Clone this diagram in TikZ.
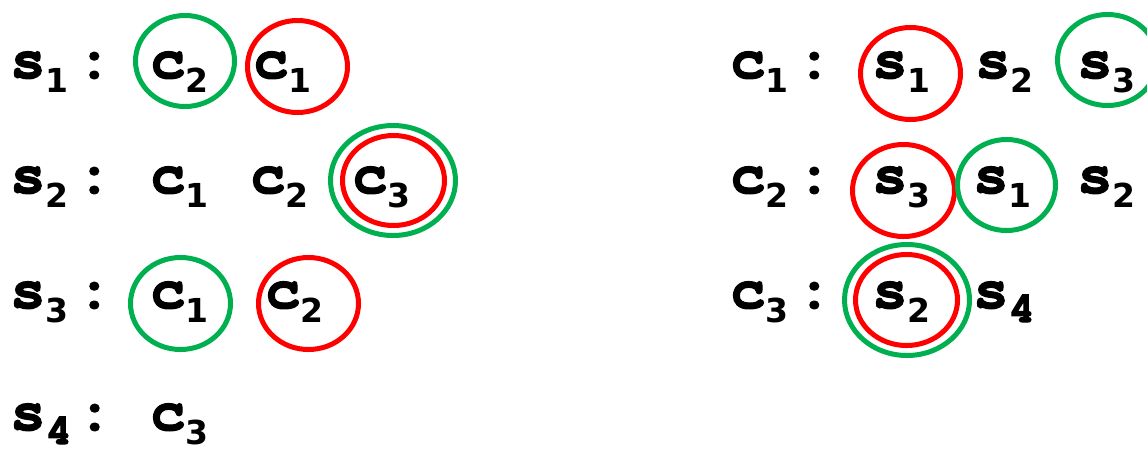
\documentclass[tikz,border=0pt]{standalone}
\usepackage[T1]{fontenc}
\usepackage{fontspec}
\newfontfamily\subfont{DejaVu Sans}
\usetikzlibrary{shapes.geometric}
\definecolor{prefgreen}{RGB}{0,176,80}
\definecolor{prefred}{RGB}{255,0,0}
\newcommand{\courb}{\fontencoding{T1}\fontfamily{pcr}\fontseries{b}\selectfont}
\newcommand{\heavy}[1]{\special{pdf:literal direct 2 Tr 1.1 w}#1\special{pdf:literal direct 0 Tr 1 w}}
\newcommand{\idx}[1]{\raisebox{-14pt}{\subfont\fontsize{33}{33}\selectfont #1}}
\newcommand{\idxm}[1]{\raisebox{-14pt}{\fontsize{44}{44}\courb\heavy{#1}}}
\newcommand{\lbl}[2]{\heavy{#1}\idx{#2}\kern8pt\heavy{:}}

\begin{document}
\begin{tikzpicture}[
    x=1pt, y=-1pt,
    tok/.style={font=\fontsize{59}{59}\courb, inner sep=0pt, anchor=base west},
    grn/.style={ellipse, draw=prefgreen, line width=5pt, inner sep=0pt},
    rd/.style={ellipse, draw=prefred, line width=5pt, inner sep=0pt},
]
\useasboundingbox (0,0) rectangle (1147,448);

% ---------- students (left) ----------
\node[tok] (ls1) at (10,78)  {\lbl{s}{1}};
\node[tok] (ls2) at (10,193) {\lbl{s}{2}};
\node[tok] (ls3) at (10,308) {\lbl{s}{3}};
\node[tok] (ls4) at (10,430) {\heavy{s}\idxm{4}\kern5pt\heavy{:}};

\node[tok] (s1c2) at (150,78) {\heavy{c}\idx{2}};
\node[tok] (s1c1) at (253,78) {\heavy{c}\idx{1}};
\node[tok] (s2c1) at (150,193) {\heavy{c}\idx{1}};
\node[tok] (s2c2) at (250,193) {\heavy{c}\idx{2}};
\node[tok] (s2c3) at (352,193) {\heavy{c}\idx{3}};
\node[tok] (s3c1) at (150,308) {\heavy{c}\idx{1}};
\node[tok] (s3c2) at (265,308) {\heavy{c}\idx{2}};
\node[tok] (s4c3) at (150,430) {\heavy{c}\idx{3}};

\node[grn, minimum width=99, minimum height=91] (g11) at (185,61) {};
\node[rd,  minimum width=100, minimum height=92] (r11) at (297.5,66.5) {};
\node[grn, minimum width=125, minimum height=110] (g23) at (393,180.5) {};
\node[rd,  minimum width=102, minimum height=90] (r23) at (393.5,180.5) {};
\node[grn, minimum width=100, minimum height=92] (g31) at (180.5,303.5) {};
\node[rd,  minimum width=100, minimum height=92] (r32) at (308.5,303.5) {};

% ---------- colleges (right) ----------
\node[tok] (lc1) at (730,78)  {\lbl{c}{1}};
\node[tok] (lc2) at (730,193) {\lbl{c}{2}};
\node[tok] (lc3) at (730,308) {\lbl{c}{3}};

\node[tok] (c1s1) at (872,78)  {\heavy{s}\idx{1}};
\node[tok] (c1s2) at (975,78)  {\heavy{s}\idx{2}};
\node[tok] (c1s3) at (1077,78) {\heavy{s}\idx{3}};
\node[tok] (c2s3) at (872,193) {\heavy{s}\idx{3}};
\node[tok] (c2s1) at (973,193) {\heavy{s}\idx{1}};
\node[tok] (c2s2) at (1077,193) {\heavy{s}\idx{2}};
\node[tok] (c3s2) at (872,308) {\heavy{s}\idx{2}};
\node[tok] (c3s4) at (973,308) {\heavy{s}\idxm{4}};

\node[rd,  minimum width=100, minimum height=92] (r11r) at (910.5,73.5) {};
\node[grn, minimum width=100, minimum height=91] (g13r) at (1107.5,60) {};
\node[rd,  minimum width=102, minimum height=92] (r23r) at (903.5,190.5) {};
\node[grn, minimum width=98, minimum height=91] (g21r) at (1006.5,185) {};
\node[grn, minimum width=125, minimum height=111] (g32r) at (907,300) {};
\node[rd,  minimum width=102, minimum height=91] (r32r) at (906.5,300) {};

\end{tikzpicture}
\end{document}
